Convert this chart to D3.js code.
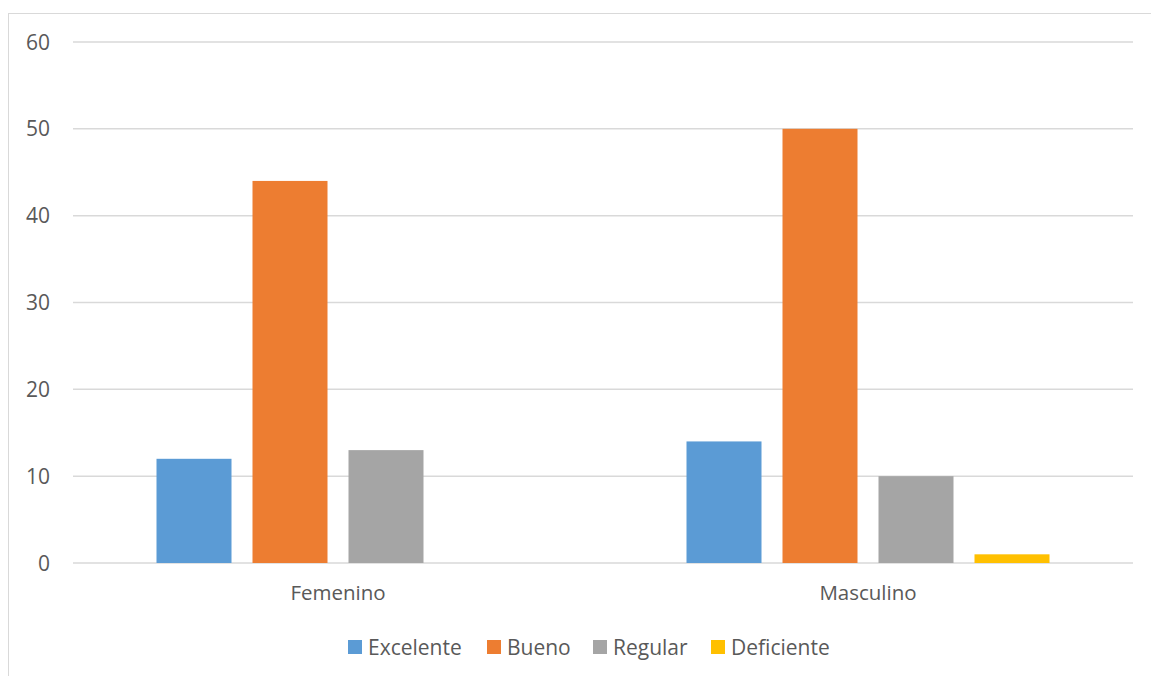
<!DOCTYPE html>
<html>
<head>
<meta charset="utf-8">
<script src="https://cdn.jsdelivr.net/npm/d3@7"></script>
<style>
  body { margin: 0; background: #fff; }
  text { font-family: "Open Sans", sans-serif; fill: #595959; }
</style>
</head>
<body>
<svg id="chart" width="1151" height="676"></svg>
<script>
// data
var categories = ['Femenino', 'Masculino'];
var series = ['Excelente', 'Bueno', 'Regular', 'Deficiente'];
var values = {
    Excelente:  [12, 14],
    Bueno:      [44, 50],
    Regular:    [13, 10],
    Deficiente: [0, 1]
};
var colors = ['#5b9bd5', '#ed7d31', '#a5a5a5', '#ffc000'];
var yTicks = [0, 10, 20, 30, 40, 50, 60];

var svg = d3.select('#chart');

// chart border (cut off at right and bottom like the source)
svg.append('rect')
    .attr('x', 8.5).attr('y', 13.5)
    .attr('width', 1160).attr('height', 700)
    .attr('fill', 'none')
    .attr('stroke', '#d9d9d9')
    .attr('stroke-width', 1);

var plotLeft = 73, plotRight = 1133, plotTop = 42, plotBottom = 563;

var y = d3.scaleLinear().domain([0, 60]).range([plotBottom, plotTop]);
var x0 = d3.scaleBand().domain(categories).range([plotLeft, plotRight]);
var groupPad = (x0.bandwidth() - 363) / 2;
var x1 = d3.scaleBand().domain(series)
    .range([groupPad, x0.bandwidth() - groupPad])
    .paddingInner(21 / 96);

// gridlines
svg.append('g').selectAll('line')
    .data(yTicks)
    .enter().append('line')
    .attr('x1', plotLeft).attr('x2', plotRight)
    .attr('y1', function(d) { return y(d); })
    .attr('y2', function(d) { return y(d); })
    .attr('stroke', '#d9d9d9')
    .attr('stroke-width', 1.5);

// y tick labels
svg.append('g').selectAll('text')
    .data(yTicks)
    .enter().append('text')
    .attr('x', 50)
    .attr('y', function(d) { return y(d); })
    .attr('dy', '0.36em')
    .attr('text-anchor', 'end')
    .style('font-size', '21px')
    .text(function(d) { return d; });

// bars
var groups = svg.append('g').selectAll('g')
    .data(categories)
    .enter().append('g')
    .attr('transform', function(d) { return 'translate(' + x0(d) + ',0)'; });

groups.selectAll('rect')
    .data(function(c, ci) {
        return series.map(function(s, si) { return {s: s, v: values[s][ci], color: colors[si]}; });
    })
    .enter().append('rect')
    .attr('x', function(d) { return x1(d.s); })
    .attr('width', x1.bandwidth())
    .attr('y', function(d) { return y(d.v); })
    .attr('height', function(d) { return y(0) - y(d.v); })
    .attr('fill', function(d) { return d.color; });

// category labels
svg.append('g').selectAll('text')
    .data(categories)
    .enter().append('text')
    .attr('x', function(d) { return x0(d) + x0.bandwidth() / 2; })
    .attr('y', 593)
    .attr('dy', '0.36em')
    .attr('text-anchor', 'middle')
    .style('font-size', '20.5px')
    .text(function(d) { return d; });

// legend
var legendX = [348, 487, 593, 711];
var legend = svg.append('g').selectAll('g')
    .data(series)
    .enter().append('g')
    .attr('transform', function(d, i) { return 'translate(' + legendX[i] + ',640)'; });
legend.append('rect')
    .attr('width', 14).attr('height', 14)
    .attr('fill', function(d, i) { return colors[i]; });
legend.append('text')
    .attr('x', 20).attr('y', 7)
    .attr('dy', '0.36em')
    .style('font-size', '21px')
    .text(function(d) { return d; });
</script>
</body>
</html>
